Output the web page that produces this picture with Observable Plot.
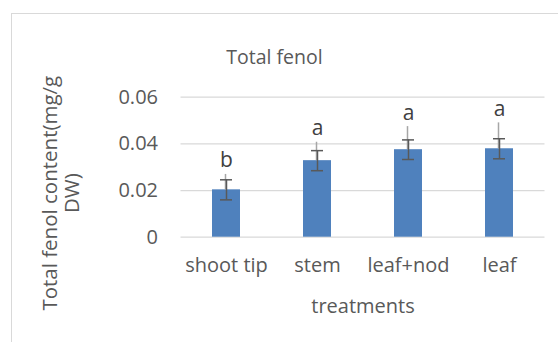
<!DOCTYPE html>
<html>
<head>
<meta charset="utf-8">
<script src="https://cdn.jsdelivr.net/npm/d3@7"></script>
<script src="https://cdn.jsdelivr.net/npm/@observablehq/plot@0.6"></script>
<style>
  html, body { margin: 0; padding: 0; background: #fff; }
  #wrap { position: relative; width: 558px; height: 342px; overflow: hidden; }
  #frame { position: absolute; left: 11px; top: 13px; width: 600px; height: 400px; border: 1px solid #d9d9d9; box-sizing: border-box; }
  #chart { position: absolute; left: 0; top: 0; }
</style>
</head>
<body>
<div id="wrap"><div id="frame"></div><div id="chart"></div></div>
<script>
const treatments = ["shoot tip", "stem", "leaf+nod", "leaf"];
const means = [0.0203, 0.0328, 0.0375, 0.0379];
const errors = [0.0043, 0.0043, 0.0042, 0.0043];
const greyTops = [0.0269, 0.0407, 0.0474, 0.049];
const letters = ["b", "a", "a", "a"];
const yTicks = [0, 0.02, 0.04, 0.06];
const title = "Total fenol";
const yLabel = "Total fenol content(mg/g\nDW)";
const xLabel = "treatments";

const data = treatments.map((t, i) => ({
  t, m: means[i], lo: means[i] - errors[i], hi: means[i] + errors[i],
  g: greyTops[i], L: letters[i]
}));

const font = "'Open Sans', sans-serif";
const txt = "#595959";
const fs = 20;

const plot = Plot.plot({
  width: 558,
  height: 342,
  marginLeft: 180.5,
  marginRight: 13.5,
  marginTop: 96.7,
  marginBottom: 105.3,
  style: { fontFamily: font, color: txt, background: "transparent", overflow: "visible" },
  x: { domain: treatments, paddingInner: 0.69, paddingOuter: 0.345, label: null },
  y: { domain: [0, 0.06], ticks: yTicks, label: null },
  marks: [
    Plot.ruleY(yTicks, { stroke: "#d9d9d9", strokeWidth: 1.2 }),
    Plot.axisY({ ticks: yTicks, tickSize: 0, tickPadding: 23, fontSize: fs, tickFormat: d => d === 0 ? "0" : d.toFixed(2), label: null, fill: txt }),
    Plot.axisX({ tickSize: 0, tickPadding: 21, fontSize: fs, label: null, fill: txt }),
    Plot.barY(data, { x: "t", y: "m", fill: "#4f81bd" }),
    Plot.ruleX(data, { x: "t", y1: "m", y2: "g", stroke: "#a6a6a6", strokeWidth: 1.5, dx: -1 }),
    Plot.ruleX(data, { x: "t", y1: "lo", y2: "hi", stroke: "#595959", strokeWidth: 1.5 }),
    Plot.tickY(data, { x: "t", y: "lo", stroke: "#595959", strokeWidth: 1.5, insetLeft: 8, insetRight: 8 }),
    Plot.tickY(data, { x: "t", y: "hi", stroke: "#595959", strokeWidth: 1.5, insetLeft: 8, insetRight: 8 }),
    Plot.text(data, { x: "t", y: "g", text: "L", dy: -7, lineAnchor: "bottom", fontSize: 21, fill: "#404040" }),
    Plot.text([title], { frameAnchor: "top", dx: -88.5, dy: -46.7, fontSize: 19.5, fill: txt }),
    Plot.text([xLabel], { frameAnchor: "bottom", dy: 76, fontSize: fs, fill: txt }),
    Plot.text([yLabel], { frameAnchor: "left", textAnchor: "middle", dx: -120, dy: 26, rotate: -90, fontSize: 20.5, fill: txt, lineHeight: 1.07 })
  ]
});
document.getElementById("chart").appendChild(plot);
</script>
</body>
</html>
